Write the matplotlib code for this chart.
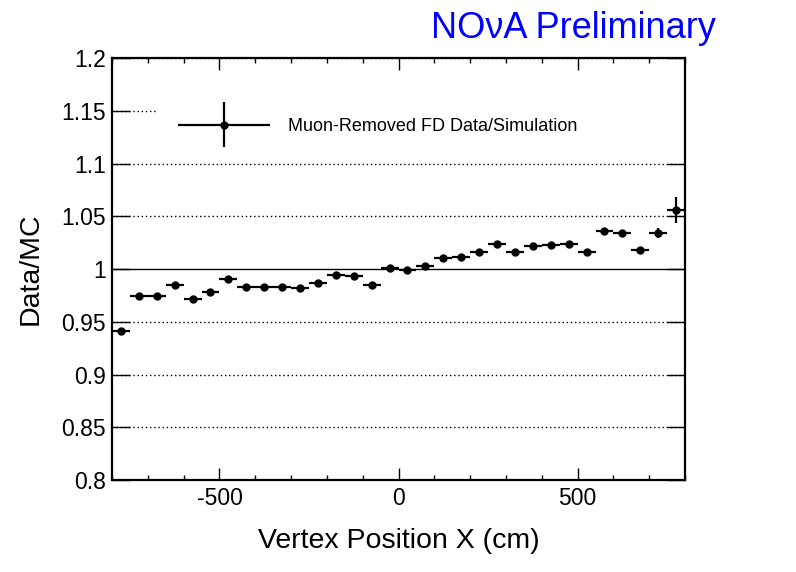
import matplotlib
matplotlib.use('Agg')
import matplotlib.pyplot as plt
import matplotlib.ticker as ticker
from matplotlib.legend_handler import HandlerErrorbar
import numpy as np

plt.rcParams['font.family'] = ['Liberation Sans', 'DejaVu Sans']
plt.rcParams['axes.unicode_minus'] = False

# 50 cm bins from -800 to 800
bin_edges = np.arange(-800, 801, 50)
ratio = [0.941, 0.974, 0.974, 0.985, 0.972, 0.978, 0.991, 0.983,
         0.983, 0.983, 0.982, 0.987, 0.994, 0.993, 0.985, 1.001,
         0.999, 1.003, 1.010, 1.011, 1.016, 1.024, 1.016, 1.022,
         1.023, 1.024, 1.016, 1.036, 1.034, 1.018, 1.034, 1.056]
ratio_err = [0.003, 0.002, 0.002, 0.002, 0.002, 0.002, 0.002, 0.002,
             0.002, 0.002, 0.002, 0.002, 0.002, 0.002, 0.002, 0.002,
             0.002, 0.002, 0.002, 0.002, 0.002, 0.002, 0.002, 0.002,
             0.002, 0.002, 0.003, 0.003, 0.003, 0.003, 0.0045, 0.012]
y_ticks = [0.8, 0.85, 0.9, 0.95, 1.0, 1.05, 1.1, 1.15, 1.2]
x_ticks = [-500, 0, 500]

centers = 0.5 * (bin_edges[:-1] + bin_edges[1:])
half_width = 0.5 * np.diff(bin_edges)

fig = plt.figure(figsize=(7.96, 5.72), dpi=100)
ax = fig.add_axes([0.1407, 0.1608, 0.7199, 0.7378])

# horizontal grid, dotted, with a solid line at unity
for yv in y_ticks:
    if yv == 1.0:
        ax.axhline(yv, color='black', lw=1.0, zorder=1)
    else:
        ax.axhline(yv, color='black', lw=1.0, ls=(0, (1, 2)), zorder=1)

eb = ax.errorbar(centers, ratio, xerr=half_width, yerr=ratio_err,
                 fmt='o', color='black', ms=5.0, elinewidth=1.6,
                 capsize=0, zorder=3,
                 label='Muon-Removed FD Data/Simulation')

ax.set_xlim(-800, 800)
ax.set_ylim(0.8, 1.2)

ax.xaxis.set_major_locator(ticker.FixedLocator(x_ticks))
ax.xaxis.set_minor_locator(ticker.MultipleLocator(100))
ax.yaxis.set_major_locator(ticker.FixedLocator(y_ticks))
ax.yaxis.set_major_formatter(ticker.FuncFormatter(lambda v, p: f'{v:g}'))

ax.tick_params(axis='both', which='both', direction='in',
               top=True, right=True, width=1.0, labelsize=16.5)
ax.tick_params(axis='x', which='major', length=8.3, pad=5)
ax.tick_params(axis='x', which='minor', length=3.8)
ax.tick_params(axis='y', which='major', length=13, pad=4.3)

for sp in ax.spines.values():
    sp.set_linewidth(1.6)

ax.set_xlabel('Vertex Position X (cm)', fontsize=20.5, labelpad=13)
ax.set_ylabel('Data/MC', fontsize=20.5, labelpad=13)

leg = ax.legend(handles=[eb], loc='upper left',
                bbox_to_anchor=(0.0803, 0.905, 0.9197, 0), mode='expand',
                borderaxespad=0, fontsize=13, handlelength=5.1,
                handletextpad=1.0, borderpad=1.1, fancybox=False,
                framealpha=1, facecolor='white', edgecolor='none',
                handler_map={type(eb): HandlerErrorbar(xerr_size=2.55, yerr_size=1.25)})
# keep the frame and ticks on top of the legend box
leg.set_zorder(2)

fig.text(0.5415, 1 - 38 / 572, 'NO\u03bdA Preliminary', color='#0000ff',
         fontsize=26, ha='left', va='baseline')

fig.savefig('out.png', dpi=100)
